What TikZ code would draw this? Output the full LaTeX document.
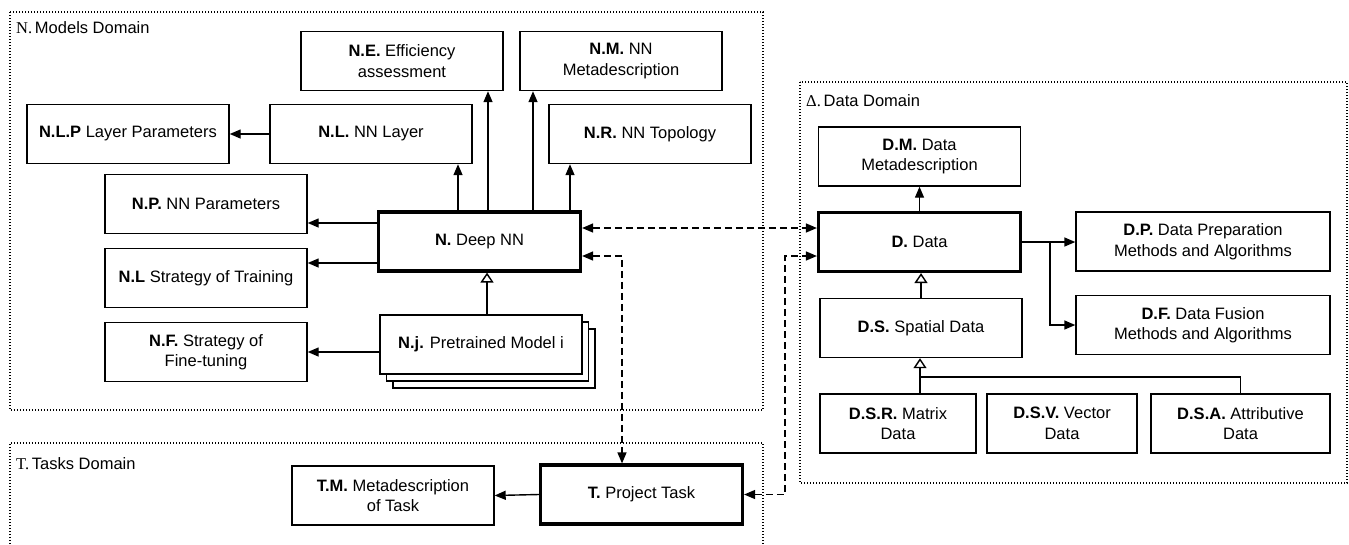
\documentclass[tikz,border=0pt]{standalone}
\usepackage{fontspec}
\setmainfont{Liberation Sans}
\newfontfamily\domfont{Liberation Serif}
\usetikzlibrary{positioning}
\usetikzlibrary{calc}
\usetikzlibrary{arrows.meta}
\tikzset{
        box/.style={draw,line width=1.4pt,fill=white,align=center,inner sep=2pt,
                minimum width=202pt,minimum height=59pt,font=\fontsize{16.5}{20.5}\selectfont},
        mainbox/.style={box,line width=3.2pt},
        arr/.style={line width=1.4pt,-{Triangle[length=11pt,width=9pt]}},
        both/.style={line width=1.4pt,dash pattern=on 7pt off 4pt,
                {Triangle[length=11pt,width=9pt]}-{Triangle[length=11pt,width=9pt]}},
        inh/.style={line width=1.4pt,-{Triangle[open,length=10pt,width=13pt]}},
        domframe/.style={line width=1.4pt,dash pattern=on 1.3pt off 1.7pt},
        domlabel/.style={anchor=west,inner sep=0pt,font=\fontsize{16.5}{20}\selectfont},
        }

\begin{document}
\begin{tikzpicture}[x=1pt,y=-1pt]

		\useasboundingbox (0,0) rectangle (1349,544);

		% domains...................
		\draw [domframe] (10,12) rectangle (763,410);
		\draw [domframe] (800,82) rectangle (1347,483);
		\draw [domframe] (10,544) |- (763,443) -- (763,544);
		\node [domlabel] (NDom) at (16,28) {{\domfont N.}\,Models Domain};
		\node [domlabel] (DDom) at (806,101) {{\domfont Δ.}\,Data Domain};
		\node [domlabel] (TDom) at (16,464) {{\domfont T.}\,Tasks Domain};

		% models domain....................
		\node [box] (NE) at (402,61) {\textbf{N.E.} Efficiency\\assessment};
		\node [box] (NM) at (621,61) {\textbf{N.M.} NN\\Metadescription};
		\node [box] (NLP) at (128,134) {\textbf{N.L.P} Layer Parameters};
		\node [box] (NL) at (371,134) {\textbf{N.L.} NN Layer};
		\node [box] (NR) at (650,134) {\textbf{N.R.} NN Topology};
		\node [box] (NP) at (206,204) {\textbf{N.P.} NN Parameters};
		\node [mainbox] (N) at (479.5,241.5) {\textbf{N.} Deep NN};
		\node [box] (NLS) at (206,278) {\textbf{N.L} Strategy of Training};
		\node [box] (NF) at (206,352) {\textbf{N.F.} Strategy of\\Fine-tuning};
		\node [box] (Nj3) at (494,358.5) {};
		\node [box] (Nj2) at (487.5,351.5) {};
		\node [box] (Nj) at (481,344.5) {\textbf{N.j.} Pretrained Model i};

		% tasks domain...................
		\node [box] (TM) at (393,495.5) {\textbf{T.M.} Metadescription\\of Task};
		\node [mainbox] (T) at (641.5,494.5) {\textbf{T.} Project Task};

		% data domain......................
		\node [box] (DM) at (919.5,156.5) {\textbf{D.M.} Data\\Metadescription};
		\node [mainbox] (D) at (919.5,242) {\textbf{D.} Data};
		\node [box,minimum width=254pt] (DP) at (1203,241.5) {\textbf{D.P.} Data Preparation\\Methods and Algorithms};
		\node [box,minimum width=254pt] (DF) at (1203,325) {\textbf{D.F.} Data Fusion\\Methods and Algorithms};
		\node [box] (DS) at (921,328) {\textbf{D.S.} Spatial Data};
		\node [box,minimum width=156pt] (DSR) at (898,423.5) {\textbf{D.S.R.} Matrix\\Data};
		\node [box,minimum width=150pt] (DSV) at (1062,423.5) {\textbf{D.S.V.} Vector\\Data};
		\node [box,minimum width=179pt] (DSA) at (1240.5,423.5) {\textbf{D.S.A.} Attributive\\Data};

		% arrows of the deep NN.............
		\draw [arr] ([xshift=-21.5pt]N.north) -- ([xshift=-21.5pt]N.north |- NL.south);
		\draw [arr] ([xshift=8.5pt]N.north) -- ([xshift=8.5pt]N.north |- NE.south);
		\draw [arr] ([xshift=53.5pt]N.north) -- ([xshift=53.5pt]N.north |- NM.south);
		\draw [arr] ([xshift=90.5pt]N.north) -- ([xshift=90.5pt]N.north |- NR.south);
		\draw [arr] ([yshift=18.5pt]N.west) -- ([yshift=18.5pt]N.west -| NP.east);
		\draw [arr] ([yshift=-21.5pt]N.west) -- ([yshift=-21.5pt]N.west -| NLS.east);
		\draw [arr] (NL.west) -- (NLP.east);
		\draw [arr] ([yshift=-7.5pt]Nj.west) -- ([yshift=-7.5pt]Nj.west -| NF.east);
		\draw [inh] ([xshift=6pt]Nj.north) -- ([xshift=6pt]Nj.north |- N.south);

		% links between domains................
		\draw [both] ([yshift=13.5pt]N.east) -- ([yshift=13.5pt]N.east -| D.west);
		\draw [both] ([yshift=-14.5pt]N.east) -| ([xshift=-19.5pt]T.north);
		\draw [both] (T.east) -- ++(41,0) |- ([yshift=-14pt]D.west);
		\draw [arr] (T.west) -- (TM.east);

		% arrows of the data...............
		\draw [arr] (D.north) -- (D.north |- DM.south);
		\draw [arr] (D.east) -- (D.east -| DP.west);
		\draw [arr] ([xshift=28pt]D.east) |- (DF.west);
		\draw [inh] (DS.north) -- (DS.north |- D.south);
		\coordinate (dsj) at (920,377);
		\draw [inh] (dsj |- DSR.north) -- (dsj |- DS.south);
		\draw [line width=1.4pt] (DSA.north) |- (dsj);

	\end{tikzpicture}
\end{document}
